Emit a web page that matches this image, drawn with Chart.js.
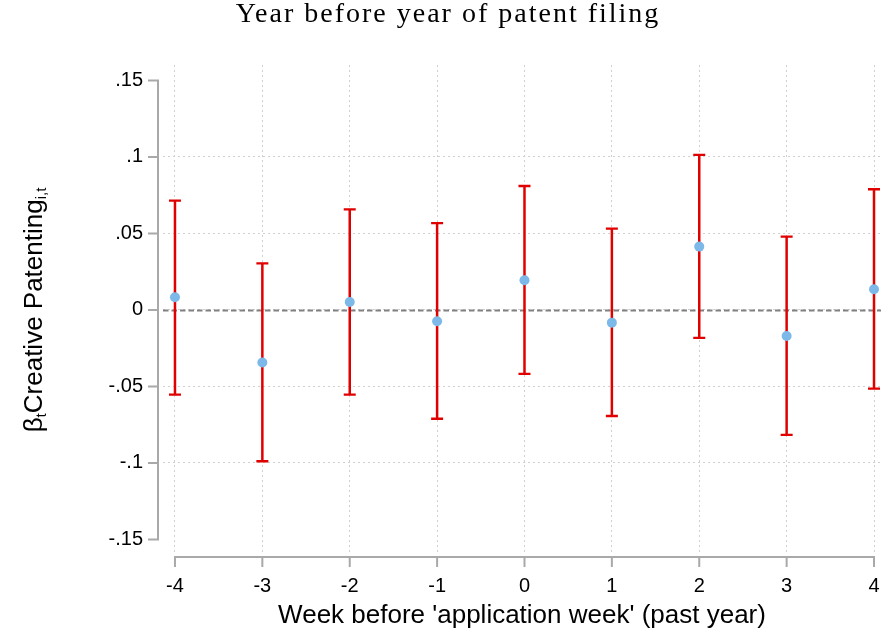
<!DOCTYPE html>
<html>
<head>
<meta charset="utf-8">
<script src="https://cdn.jsdelivr.net/npm/chart.js@4"></script>
<style>
  html, body { margin: 0; padding: 0; background: #fff; }
  #wrap { width: 886px; height: 637px; }
</style>
</head>
<body>
<div id="wrap"><canvas id="c" width="886" height="637"></canvas></div>
<script>
// ---- data ----
const weeks = [-4, -3, -2, -1, 0, 1, 2, 3, 4];
const coef  = [0.0083, -0.0343, 0.0052, -0.0074, 0.0194, -0.0083, 0.0414, -0.0170, 0.0135];
const upper = [0.0715, 0.0304, 0.0658, 0.0567, 0.0810, 0.0532, 0.1013, 0.0479, 0.0789];
const lower = [-0.0554, -0.0989, -0.0554, -0.0711, -0.0418, -0.0693, -0.0183, -0.0817, -0.0514];
const yTicks = [-0.15, -0.1, -0.05, 0, 0.05, 0.1, 0.15];
const yTickLabels = ['-.15', '-.1', '-.05', '0', '.05', '.1', '.15'];
const xTickLabels = ['-4', '-3', '-2', '-1', '0', '1', '2', '3', '4'];
const titleText = 'Year before year of patent filing';
const xTitleText = "Week before 'application week' (past year)";

const AXIS_COLOR = '#a9a9a9';
const GRID_COLOR = '#d0d0d0';
const RED = '#e00000';
const BLUE = '#7db9e8';

const errorBarPlugin = {
  id: 'errorBars',
  beforeDatasetsDraw(chart) {
    const {ctx, scales: {x, y}, chartArea} = chart;
    ctx.save();
    // zero reference line
    ctx.strokeStyle = '#808080';
    ctx.lineWidth = 1.8;
    ctx.setLineDash([5.5, 3]);
    const y0 = Math.round(y.getPixelForValue(0)) + 0.5;
    ctx.beginPath();
    ctx.moveTo(chartArea.left, y0);
    ctx.lineTo(chartArea.right, y0);
    ctx.stroke();
    ctx.setLineDash([]);
    // error bars
    ctx.strokeStyle = RED;
    for (let i = 0; i < weeks.length; i++) {
      const px = x.getPixelForValue(weeks[i]);
      const pu = y.getPixelForValue(upper[i]);
      const pl = y.getPixelForValue(lower[i]);
      ctx.lineWidth = 2.5;
      ctx.beginPath();
      ctx.moveTo(px, pu);
      ctx.lineTo(px, pl);
      ctx.stroke();
      ctx.lineWidth = 2.3;
      ctx.beginPath();
      ctx.moveTo(px - 6, pu);
      ctx.lineTo(px + 6, pu);
      ctx.moveTo(px - 6, pl);
      ctx.lineTo(px + 6, pl);
      ctx.stroke();
    }
    ctx.restore();
  },
  afterDraw(chart) {
    const {ctx, scales: {x, y}} = chart;
    ctx.save();
    ctx.strokeStyle = AXIS_COLOR;
    ctx.lineWidth = 2;
    // y axis line + ticks (detached axis)
    const ax = 158;
    const yTop = y.getPixelForValue(yTicks[yTicks.length - 1]);
    const yBot = y.getPixelForValue(yTicks[0]);
    ctx.beginPath();
    ctx.moveTo(ax, yTop);
    ctx.lineTo(ax, yBot);
    yTicks.forEach(v => {
      const py = y.getPixelForValue(v);
      ctx.moveTo(ax - 10, py);
      ctx.lineTo(ax + 1, py);
    });
    ctx.stroke();
    // x axis line + ticks
    const ay = 557;
    const xL = x.getPixelForValue(weeks[0]);
    const xR = x.getPixelForValue(weeks[weeks.length - 1]);
    ctx.beginPath();
    ctx.moveTo(xL, ay);
    ctx.lineTo(xR, ay);
    weeks.forEach(v => {
      const px = x.getPixelForValue(v);
      ctx.moveTo(px, ay - 1);
      ctx.lineTo(px, ay + 10);
    });
    ctx.stroke();

    // main title
    ctx.fillStyle = '#000';
    ctx.font = '28px "Liberation Serif", "Times New Roman", serif';
    ctx.textAlign = 'center';
    ctx.textBaseline = 'alphabetic';
    if ('letterSpacing' in ctx) ctx.letterSpacing = '2px';
    ctx.fillText(titleText, 448, 22);
    if ('letterSpacing' in ctx) ctx.letterSpacing = '0px';

    // y-axis title with subscripts
    ctx.translate(42, 310);
    ctx.rotate(-Math.PI / 2);
    const big = '26px "Liberation Sans", Arial, sans-serif';
    const small = '15px "Liberation Sans", Arial, sans-serif';
    const segs = [
      ['β', big, 0],
      ['t', small, 4],
      ['Creative Patenting', big, 0],
      ['i,t', small, 4]
    ];
    let total = 0;
    segs.forEach(s => { ctx.font = s[1]; total += ctx.measureText(s[0]).width; });
    let cx = -total / 2;
    ctx.textAlign = 'left';
    segs.forEach(s => {
      ctx.font = s[1];
      ctx.fillText(s[0], cx, s[2]);
      cx += ctx.measureText(s[0]).width;
    });
    ctx.restore();
  }
};

const ctx = document.getElementById('c').getContext('2d');
new Chart(ctx, {
  type: 'scatter',
  data: {
    datasets: [{
      data: weeks.map((w, i) => ({x: w, y: coef[i]})),
      backgroundColor: BLUE,
      borderColor: BLUE,
      pointRadius: 5,
      pointHoverRadius: 5,
      borderWidth: 0
    }]
  },
  options: {
    responsive: false,
    animation: false,
    devicePixelRatio: 1,
    layout: { padding: { left: 0, right: 3, top: 65, bottom: 0 } },
    plugins: {
      legend: { display: false },
      tooltip: { enabled: false },
      title: { display: false }
    },
    scales: {
      x: {
        type: 'linear',
        min: -4.137,
        max: 4.08,
        afterBuildTicks: s => { s.ticks = weeks.map(v => ({value: v})); },
        afterFit: s => { s.height = 85; s.paddingLeft = 0; s.paddingRight = 0; },
        ticks: {
          color: '#000',
          font: { family: '"Liberation Sans", Arial, sans-serif', size: 20 },
          padding: 22,
          maxRotation: 0,
          autoSkip: false,
          callback: (v) => xTickLabels[weeks.indexOf(v)]
        },
        grid: {
          drawTicks: false,
          color: GRID_COLOR,
          lineWidth: 1
        },
        border: { display: false, dash: [2, 3] },
        title: {
          display: true,
          text: xTitleText,
          color: '#000',
          font: { family: '"Liberation Sans", Arial, sans-serif', size: 26 },
          padding: { top: 0, bottom: 6 }
        }
      },
      y: {
        type: 'linear',
        min: -0.1582,
        max: 0.1601,
        afterBuildTicks: s => { s.ticks = yTicks.map(v => ({value: v})); },
        afterFit: s => { s.width = 163; s.paddingTop = 0; s.paddingBottom = 0; },
        ticks: {
          color: '#000',
          font: { family: '"Liberation Sans", Arial, sans-serif', size: 20 },
          padding: 20,
          autoSkip: false,
          callback: (v) => {
            const i = yTicks.findIndex(t => Math.abs(t - v) < 1e-9);
            return i >= 0 ? yTickLabels[i] : '';
          }
        },
        grid: {
          drawTicks: false,
          color: (c) => (c.tick && Math.abs(Math.abs(c.tick.value) - 0.15) < 1e-9) ? 'rgba(0,0,0,0)' : GRID_COLOR,
          lineWidth: 1
        },
        border: { display: false, dash: [2, 3] }
      }
    }
  },
  plugins: [errorBarPlugin]
});
</script>
</body>
</html>
